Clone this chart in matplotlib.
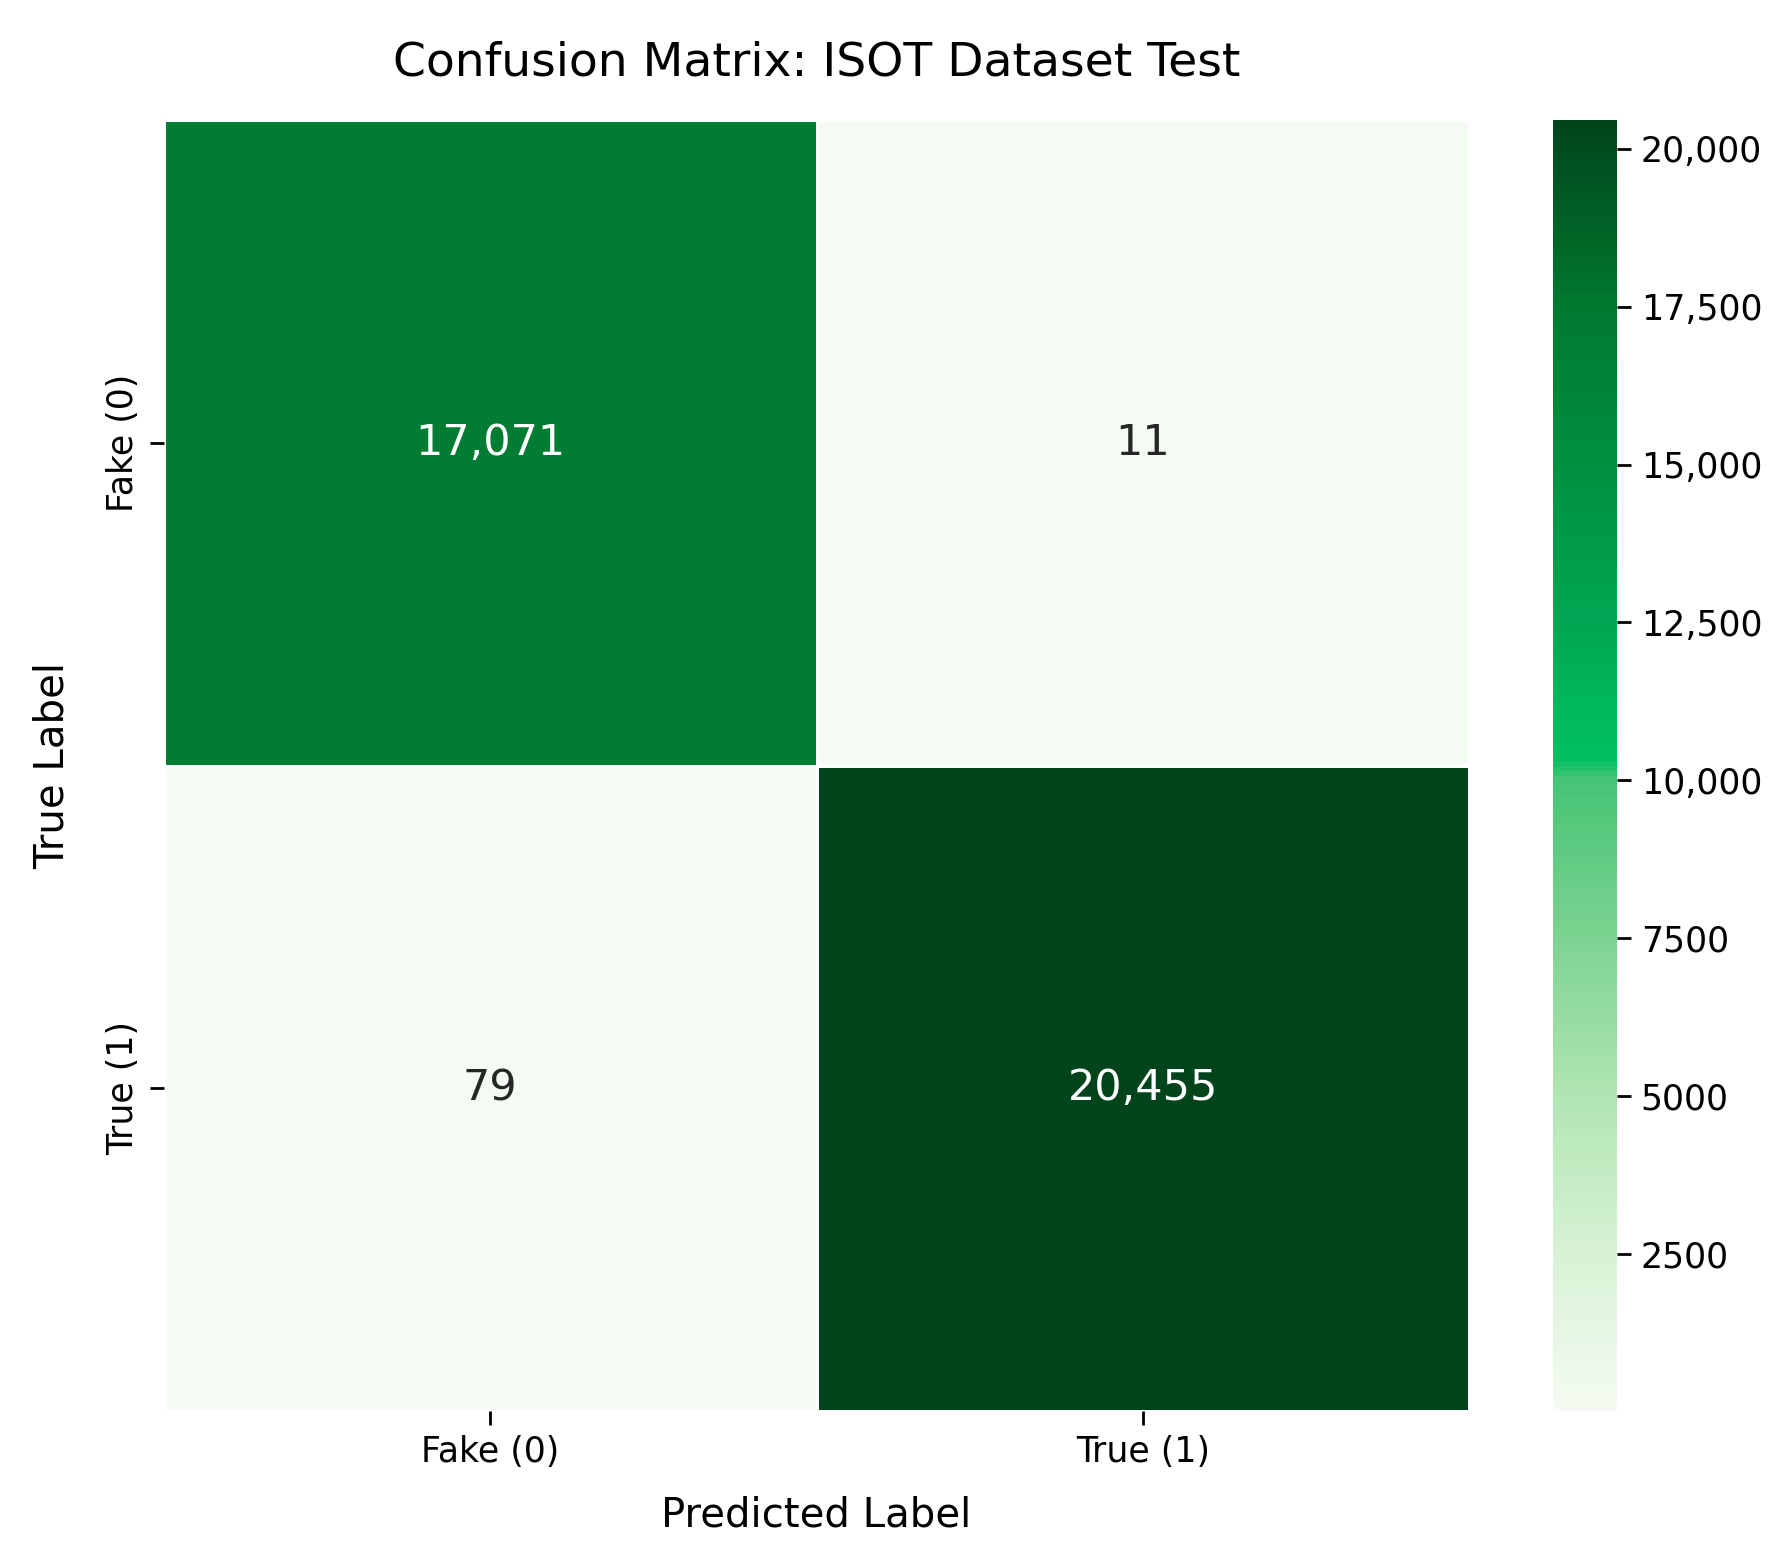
import numpy as np
import matplotlib
matplotlib.use("Agg")
import matplotlib.pyplot as plt
import seaborn as sns
from matplotlib.colors import LinearSegmentedColormap
from matplotlib.ticker import FuncFormatter

# confusion matrix values (rows: true label, cols: predicted label)
class_names = ["Fake (0)", "True (1)"]
cm = np.array([[17071, 11],
               [79, 20455]])

# saturated green scale as seen in the picture
cmap_stops = [0.0, 0.12, 0.245, 0.365, 0.49, 0.505, 0.545, 0.61, 0.735, 0.855, 1.0]
cmap_colors = ["#f4fbf2", "#d8f2d5", "#b0e5b3", "#7dd391", "#45c474",
               "#00bf62", "#00b85c", "#00a653", "#008f40", "#007a30", "#00441b"]
cmap = LinearSegmentedColormap.from_list("greens_sat", list(zip(cmap_stops, cmap_colors)))


def comma_fmt(x, pos):
    # commas only from 10,000 up, as in the original
    if abs(x) >= 10000:
        return f"{x:,.0f}"
    return f"{x:.0f}"


plt.rcParams["font.family"] = ["DejaVu Sans"]
fig = plt.figure(figsize=(8.95, 7.8), dpi=200)
ax = fig.add_axes([0.0916, 0.0955, 0.7291, 0.8275])
cax = fig.add_axes([0.8676, 0.0955, 0.0358, 0.8275])

sns.heatmap(cm, annot=True, fmt=",", cmap=cmap, ax=ax, cbar_ax=cax,
            linewidths=1, linecolor="white",
            xticklabels=class_names, yticklabels=class_names,
            annot_kws={"size": 15.5})

ax.set_title("Confusion Matrix: ISOT Dataset Test", fontsize=17, pad=16)
ax.set_xlabel("Predicted Label", fontsize=14.5, labelpad=9.5)
ax.set_ylabel("True Label", fontsize=14.5, labelpad=12)
ax.tick_params(axis="both", labelsize=12.5, length=5, width=1)
plt.setp(ax.get_yticklabels(), rotation=90, va="center")
plt.setp(ax.get_xticklabels(), rotation=0)

cax.yaxis.set_major_formatter(FuncFormatter(comma_fmt))
cax.tick_params(labelsize=12.5, length=5, width=1)

fig.savefig("out.png", dpi=200)
